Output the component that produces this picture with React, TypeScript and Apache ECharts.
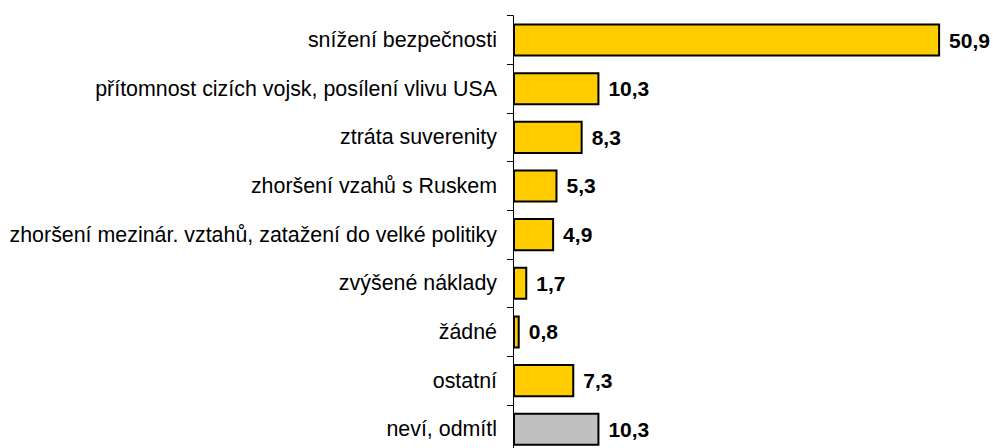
import React, { useEffect, useRef } from "react";
import * as echarts from "echarts";

const categories = [
  "snížení bezpečnosti",
  "přítomnost cizích vojsk, posílení vlivu USA",
  "ztráta suverenity",
  "zhoršení vzahů s Ruskem",
  "zhoršení mezinár. vztahů, zatažení do velké politiky",
  "zvýšené náklady",
  "žádné",
  "ostatní",
  "neví, odmítl",
];
const values = [50.9, 10.3, 8.3, 5.3, 4.9, 1.7, 0.8, 7.3, 10.3];
const grayIndex = 8;

export default function App() {
  const ref = useRef<HTMLDivElement>(null);
  useEffect(() => {
    if (!ref.current) return;
    const chart = echarts.init(ref.current, undefined, { renderer: "svg" });
    chart.setOption({
      animation: false,
      grid: { left: 513, right: 18.5, top: 15.7, bottom: 6.4, containLabel: false },
      xAxis: { type: "value", min: 0, max: 55, show: false },
      yAxis: {
        type: "category",
        inverse: true,
        data: categories,
        axisLine: { show: true, lineStyle: { color: "#000", width: 1 } },
        axisTick: { show: true, length: 6, lineStyle: { color: "#000" } },
        axisLabel: {
          margin: 16,
          fontSize: 21.4,
          color: "#000",
          fontFamily: "Liberation Sans, Arial, sans-serif",
        },
      },
      series: [
        {
          type: "bar",
          barCategoryGap: "32%",
          data: values.map((v, i) => ({
            value: v,
            itemStyle: {
              color: i === grayIndex ? "#C0C0C0" : "#FFCC00",
              borderColor: "#000",
              borderWidth: 2,
            },
          })),
          label: {
            show: true,
            position: "right",
            distance: 9,
            fontSize: 21,
            fontWeight: "bold",
            color: "#000",
            fontFamily: "Liberation Sans, Arial, sans-serif",
            formatter: (p: any) => String(p.value).replace(".", ","),
          },
        },
      ],
    });
    return () => chart.dispose();
  }, []);
  return (
    <div
      ref={ref}
      style={{ position: "fixed", left: 0, top: 0, width: 993, height: 460, background: "#fff" }}
    />
  );
}
